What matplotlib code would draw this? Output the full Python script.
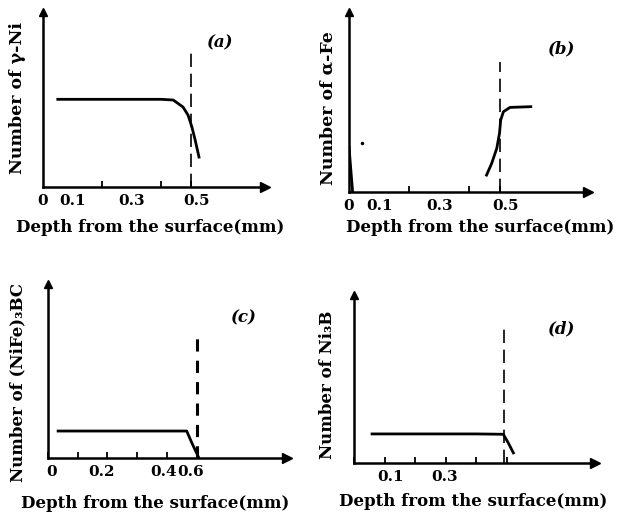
import numpy as np
import matplotlib
matplotlib.use("Agg")
import matplotlib.pyplot as plt

plt.rcParams['font.family'] = ['DejaVu Serif']
plt.rcParams['font.weight'] = 'bold'

W, H = 621, 513

# panel (a): gamma-Ni
a_x = [0.05, 0.20, 0.40, 0.44, 0.473, 0.49, 0.503, 0.514, 0.527]
a_y = [0.501, 0.501, 0.501, 0.497, 0.457, 0.411, 0.343, 0.269, 0.171]
a_ticks = [0.0, 0.1, 0.2, 0.3, 0.4, 0.5]
a_labels = ['0', '0.1', '0.3', '0.5']
a_label_pos = [0.0, 0.1, 0.3, 0.52]

# panel (b): alpha-Fe
b_x = [0.457, 0.474, 0.491, 0.50, 0.504, 0.513, 0.535, 0.604]
b_y = [0.094, 0.159, 0.243, 0.326, 0.40, 0.446, 0.47, 0.474]
b_edge_x = [0.0, 0.012]
b_edge_y = [0.25, 0.0]
b_ticks = [0.0, 0.1, 0.2, 0.3, 0.4, 0.5]
b_labels = ['0', '0.1', '0.3', '0.5']
b_label_pos = [0.0, 0.1, 0.3, 0.52]

# panel (c): (NiFe)3BC
c_x = [0.034, 0.20, 0.40, 0.467, 0.484, 0.50, 0.508]
c_y = [0.155, 0.155, 0.155, 0.155, 0.088, 0.03, 0.0]
c_ticks = [0.0, 0.1, 0.2, 0.3, 0.4, 0.5]
c_labels = ['0', '0.2', '0.4', '0.6']
c_label_pos = [0.013, 0.18, 0.39, 0.48]

# panel (d): Ni3B
d_x = [0.059, 0.20, 0.40, 0.488, 0.504, 0.521]
d_y = [0.173, 0.173, 0.173, 0.171, 0.12, 0.06]
d_ticks = [0.0, 0.1, 0.2, 0.3, 0.4, 0.5]
d_labels = ['0.1', '0.3']
d_label_pos = [0.118, 0.297]

fig = plt.figure(figsize=(W / 100, H / 100), dpi=100)


def panel(ox, oy, xend, ytop, scale):
    # axes placed from pixel positions of the origin and axis ends
    ax = fig.add_axes([ox / W, (H - oy) / H, (xend - ox) / W, (oy - ytop) / H])
    ax.set_xlim(0, (xend - ox) / scale)
    ax.set_ylim(0, 1)
    for s in ['top', 'right']:
        ax.spines[s].set_visible(False)
    for s in ['left', 'bottom']:
        ax.spines[s].set_linewidth(1.8)
    ax.set_yticks([])
    ax.plot(1, 0, '>', color='k', ms=7, transform=ax.transAxes, clip_on=False)
    ax.plot(0, 1, '^', color='k', ms=6, transform=ax.transAxes, clip_on=False)
    return ax


def ticks(ax, marks, pos, labels):
    ax.set_xticks(marks, minor=True)
    ax.tick_params(axis='x', which='minor', direction='in', length=4, width=1.3)
    ax.set_xticks(pos, labels)
    ax.tick_params(axis='x', which='major', length=0, pad=5, labelsize=11)


axa = panel(43, 187, 265, 12, 296)
axa.plot(a_x, a_y, color='k', lw=2)
axa.axvline(0.5, ymax=0.78, color='k', lw=1.2, dashes=(8, 4))
ticks(axa, a_ticks, a_label_pos, a_labels)
axa.text(0.8, 0.8, '(a)', transform=axa.transAxes, fontsize=12, style='italic', ha='center')

axb = panel(349, 192, 588, 12, 301)
axb.plot(b_x, b_y, color='k', lw=2)
axb.plot(b_edge_x, b_edge_y, color='k', lw=2)
axb.plot([0.043], [0.27], '.', color='k', ms=3)
axb.axvline(0.5, ymax=0.72, color='k', lw=1.2, dashes=(8, 4))
ticks(axb, b_ticks, b_label_pos, b_labels)
axb.text(0.89, 0.77, '(b)', transform=axb.transAxes, fontsize=12, style='italic', ha='center')

axc = panel(48, 458, 287, 284, 297)
axc.plot(c_x, c_y, color='k', lw=2)
axc.axvline(0.5, ymax=0.71, color='k', lw=2.2, dashes=(4, 3))
ticks(axc, c_ticks, c_label_pos, c_labels)
axc.text(0.82, 0.78, '(c)', transform=axc.transAxes, fontsize=12, style='italic', ha='center')

axd = panel(354, 463, 595, 295, 306)
axd.plot(d_x, d_y, color='k', lw=2)
axd.axvline(0.49, ymax=0.83, color='k', lw=1.2, dashes=(8, 4))
ticks(axd, d_ticks, d_label_pos, d_labels)
axd.text(0.86, 0.77, '(d)', transform=axd.transAxes, fontsize=12, style='italic', ha='center')

ylab = [(18, 98, 'Number of γ-Ni', 12.5), (328, 108, 'Number of α-Fe', 12.5),
        (18, 382, 'Number of (NiFe)₃BC', 12), (328, 385, 'Number of Ni₃B', 12)]
for x, y, t, fs in ylab:
    fig.text(x / W, (H - y) / H, t, rotation=90, ha='center', va='center', fontsize=fs)

xlab = [(150, 228), (480, 228), (155, 504), (473, 501)]
for x, y in xlab:
    fig.text(x / W, (H - y) / H, 'Depth from the surface(mm)', ha='center', va='center', fontsize=12)

fig.savefig('out.png', dpi=100)
